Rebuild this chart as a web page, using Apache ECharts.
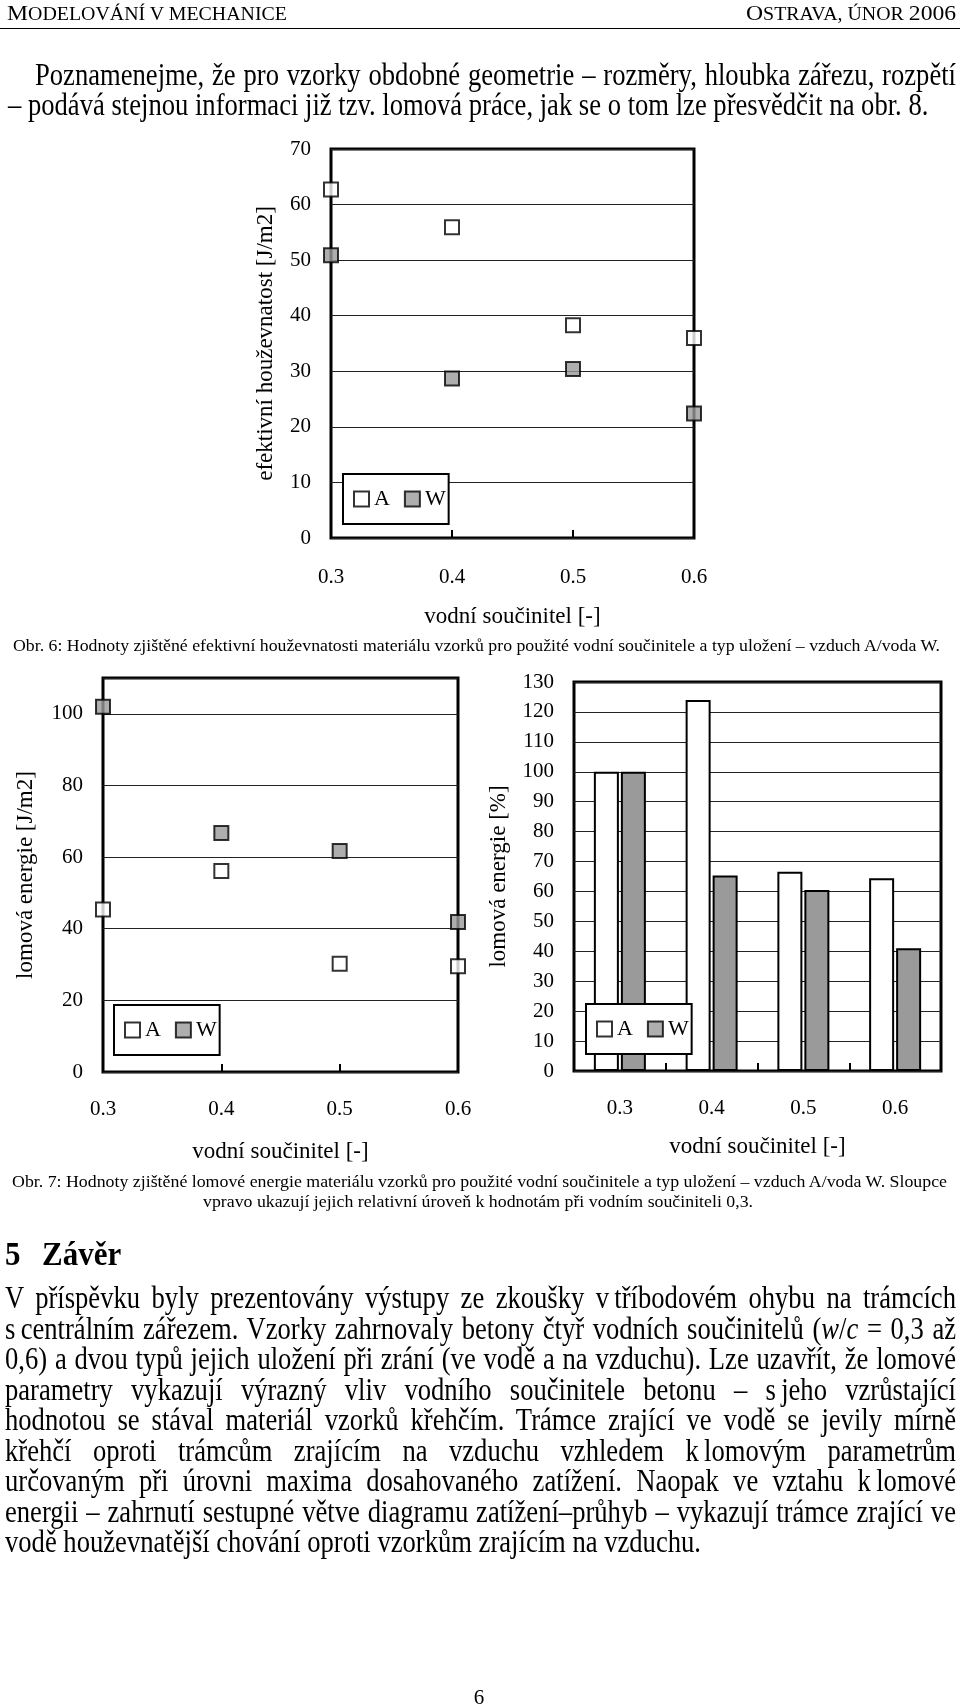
<!DOCTYPE html>
<html><head><meta charset="utf-8">
<script src="https://cdn.jsdelivr.net/npm/echarts@6/dist/echarts.min.js"></script>
<style>
html,body{margin:0;padding:0;background:#fff;}
#page{position:relative;width:960px;height:1707px;overflow:hidden;font-family:"Liberation Serif","Times New Roman",serif;color:#000;background:#fff;}
#chart{position:absolute;left:0;top:0;width:960px;height:1707px;}
.ln{position:absolute;white-space:nowrap;z-index:5;}
.j{text-align:justify;text-align-last:justify;white-space:normal;}
#hr{position:absolute;left:0;top:28px;width:960px;height:0;border-top:1.5px solid #000;z-index:5;}
</style></head>
<body>
<div id="page"><div id="chart"></div><div id="hr"></div></div>
<script>
// ---------- data ----------
const wcCategories = ['0.3', '0.4', '0.5', '0.6'];
const fig6_A = [62.7, 55.9, 38.3, 36.0];
const fig6_W = [50.9, 28.7, 30.4, 22.4];
const fig7_A = [45.4, 56.1, 30.2, 29.5];
const fig7_W = [102, 66.7, 61.7, 41.9];
const fig7rel_A = [100, 124, 66.6, 64.4];
const fig7rel_W = [100, 65.3, 60.5, 41.0];
const fig6_yTicks = [0, 10, 20, 30, 40, 50, 60, 70];
const fig7_yTicks = [0, 20, 40, 60, 80, 100];
const fig7rel_yTicks = [0, 10, 20, 30, 40, 50, 60, 70, 80, 90, 100, 110, 120, 130];

// ---------- text ----------
const headerLeft = '<span style="font-size:22px">M</span>ODELOVÁNÍ V MECHANICE';
const headerRight = '<span style="font-size:22px">O</span>STRAVA, ÚNOR <span style="font-size:22px">2006</span>';
const para1 = [
  'Poznamenejme, že pro vzorky obdobné geometrie – rozměry, hloubka zářezu, rozpětí',
  '– podává stejnou informaci již tzv. lomová práce, jak se o tom lze přesvědčit na obr. 8.'
];
const caption6 = 'Obr. 6: Hodnoty zjištěné efektivní houževnatosti materiálu vzorků pro použité vodní součinitele a typ uložení – vzduch A/voda W.';
const caption7 = [
  'Obr. 7: Hodnoty zjištěné lomové energie materiálu vzorků pro použité vodní součinitele a typ uložení – vzduch A/voda W. Sloupce',
  'vpravo ukazují jejich relativní úroveň k hodnotám při vodním součiniteli 0,3.'
];
const heading = ['5', 'Závěr'];
const para2 = [
  'V příspěvku byly prezentovány výstupy ze zkoušky v&thinsp;tříbodovém ohybu na trámcích',
  's&thinsp;centrálním zářezem. Vzorky zahrnovaly betony čtyř vodních součinitelů (<i>w</i>/<i>c</i> = 0,3 až',
  '0,6) a dvou typů jejich uložení při zrání (ve vodě a na vzduchu). Lze uzavřít, že lomové',
  'parametry vykazují výrazný vliv vodního součinitele betonu – s&thinsp;jeho vzrůstající',
  'hodnotou se stával materiál vzorků křehčím. Trámce zrající ve vodě se jevily mírně',
  'křehčí oproti trámcům zrajícím na vzduchu vzhledem k&thinsp;lomovým parametrům',
  'určovaným při úrovni maxima dosahovaného zatížení. Naopak ve vztahu k&thinsp;lomové',
  'energii – zahrnutí sestupné větve diagramu zatížení–průhyb – vykazují trámce zrající ve',
  'vodě houževnatější chování oproti vzorkům zrajícím na vzduchu.'
];
const pageNumber = '6';

// ---------- text layout ----------
const pageEl = document.getElementById('page');
function place(o) {
  const d = document.createElement('div');
  d.className = 'ln';
  const fs = o.fs, L = Math.round(fs * 1.25);
  const asc = (L - 1.107 * fs) / 2 + 0.891 * fs;
  d.style.fontSize = fs + 'px';
  d.style.lineHeight = L + 'px';
  d.style.top = (o.base - asc) + 'px';
  d.style.transformOrigin = '0 ' + asc + 'px';
  if (o.bold) d.style.fontWeight = 'bold';
  d.innerHTML = o.html;
  pageEl.appendChild(d);
  const nat = d.getBoundingClientRect().width;
  let sx = o.sx || 1;
  if (o.fitW) sx = o.fitW / nat;
  let left = o.x;
  if (o.just) {
    if (nat * sx > o.w) sx = o.w / nat * 0.998;
    d.style.width = (o.w / sx) + 'px';
    d.classList.add('j');
  }
  if (o.center != null) left = o.center - nat * sx / 2;
  if (o.right != null) left = o.right - nat * sx;
  d.style.left = left + 'px';
  d.style.transform = 'scale(' + sx + ',' + (o.sy || 1) + ')';
  return sx;
}
// header
const hsx = place({html: headerLeft, fs: 18.5, x: 7, base: 19, fitW: 280});
place({html: headerRight, fs: 18.5, right: 956, base: 19, sx: hsx});
// body font scale from the last (unjustified) line of the conclusion
const bodySx = place({html: para2[8], fs: 25, x: 5, base: 1308 + 8 * 30.5, fitW: 696, sy: 1.24});
place({html: para1[0], fs: 25, x: 35, w: 921, base: 85, just: true, sx: bodySx, sy: 1.24});
place({html: para1[1], fs: 25, x: 8, base: 115, sx: bodySx, sy: 1.24});
for (let i = 0; i < 8; i++) {
  place({html: para2[i], fs: 25, x: 5, w: 951, base: 1308 + i * 30.5, just: true, sx: bodySx, sy: 1.24});
}
// captions
place({html: caption6, fs: 16, center: 476, fitW: 927, base: 651, sy: 1.1});
place({html: caption7[0], fs: 16, center: 479.5, fitW: 935, base: 1187, sy: 1.1});
place({html: caption7[1], fs: 16, center: 478, fitW: 550, base: 1207, sy: 1.1});
// heading
place({html: heading[0], fs: 31, bold: true, x: 5, base: 1265, sy: 1.12});
place({html: heading[1], fs: 31, bold: true, x: 42, base: 1265, sy: 1.12});
// page number
place({html: pageNumber, fs: 21, center: 479, base: 1704});

// ---------- charts ----------
const SERIF = '"Liberation Serif","Times New Roman",serif';
const lbl = {color: '#000', fontFamily: SERIF, fontSize: 21};
const nameStyle = {color: '#000', fontFamily: SERIF, fontSize: 23};
function gridBox(l, t, w, h) {
  return {left: l, top: t, width: w, height: h, show: true, borderColor: '#000', borderWidth: 3, backgroundColor: '#fff'};
}
function xCat(gi, boundaryGap, nameGap, margin) {
  return {
    gridIndex: gi, type: 'category', data: wcCategories, boundaryGap: boundaryGap,
    axisLine: {show: false},
    axisTick: {show: true, inside: true, length: 8, alignWithLabel: false, lineStyle: {color: '#000', width: 2}},
    axisLabel: Object.assign({}, lbl, {margin: margin, interval: 0}),
    splitLine: {show: false},
    name: 'vodní součinitel [-]', nameLocation: 'middle', nameGap: nameGap, nameTextStyle: nameStyle
  };
}
function yVal(gi, ticks, interval, name, nameGap) {
  return {
    gridIndex: gi, type: 'value', min: ticks[0], max: ticks[ticks.length - 1], interval: interval,
    axisLine: {show: false}, axisTick: {show: false},
    axisLabel: Object.assign({}, lbl, {margin: 20}),
    splitLine: {show: true, lineStyle: {color: '#222', width: 1}},
    name: name, nameLocation: 'middle', nameGap: nameGap, nameTextStyle: nameStyle
  };
}
const yAx2 = yVal(1, fig7_yTicks, 20, 'lomová energie [J/m2]', 66);
yAx2.max = 110;
yAx2.axisLabel.showMaxLabel = false;

const styleA = {color: '#fff', borderColor: '#000', borderWidth: 2};
const styleW = {color: '#9a9a9a', borderColor: '#000', borderWidth: 2};
function legendBox(l, t) {
  return {
    left: l, top: t, orient: 'horizontal', data: ['A', 'W'], selectedMode: false,
    icon: 'rect', itemWidth: 15, itemHeight: 15, itemGap: 14,
    padding: [14, 3, 14, 10], borderColor: '#000', borderWidth: 2, backgroundColor: '#fff',
    textStyle: {fontFamily: SERIF, fontSize: 22, color: '#000'}, z: 10
  };
}
function scatter(name, data, gi, st) {
  return {name: name, type: 'scatter', xAxisIndex: gi, yAxisIndex: gi, data: data,
    symbol: 'rect', symbolSize: 14, itemStyle: st, clip: false, z: 5, silent: true};
}
function bar(name, data, st) {
  return {name: name, type: 'bar', xAxisIndex: 2, yAxisIndex: 2, data: data,
    barWidth: 25, barGap: '8%', itemStyle: st, z: 3, silent: true};
}

const chart = echarts.init(document.getElementById('chart'), null, {renderer: 'canvas'});
chart.setOption({
  animation: false,
  backgroundColor: 'transparent',
  grid: [gridBox(331, 149, 363, 389), gridBox(103, 678, 355, 394), gridBox(574, 682, 367, 389)],
  xAxis: [xCat(0, false, 67, 29), xCat(1, false, 68, 27), xCat(2, true, 64, 27)],
  yAxis: [
    yVal(0, fig6_yTicks, 10, 'efektivní houževnatost [J/m2]', 54),
    yAx2,
    yVal(2, fig7rel_yTicks, 10, 'lomová energie [%]', 64)
  ],
  legend: [legendBox(343, 474), legendBox(114, 1005), legendBox(586, 1004)],
  series: [
    scatter('A', fig6_A, 0, styleA),
    scatter('W', fig6_W, 0, styleW),
    scatter('A', fig7_A, 1, styleA),
    scatter('W', fig7_W, 1, styleW),
    bar('A', fig7rel_A, styleA),
    bar('W', fig7rel_W, styleW)
  ]
});
</script>
</body></html>
